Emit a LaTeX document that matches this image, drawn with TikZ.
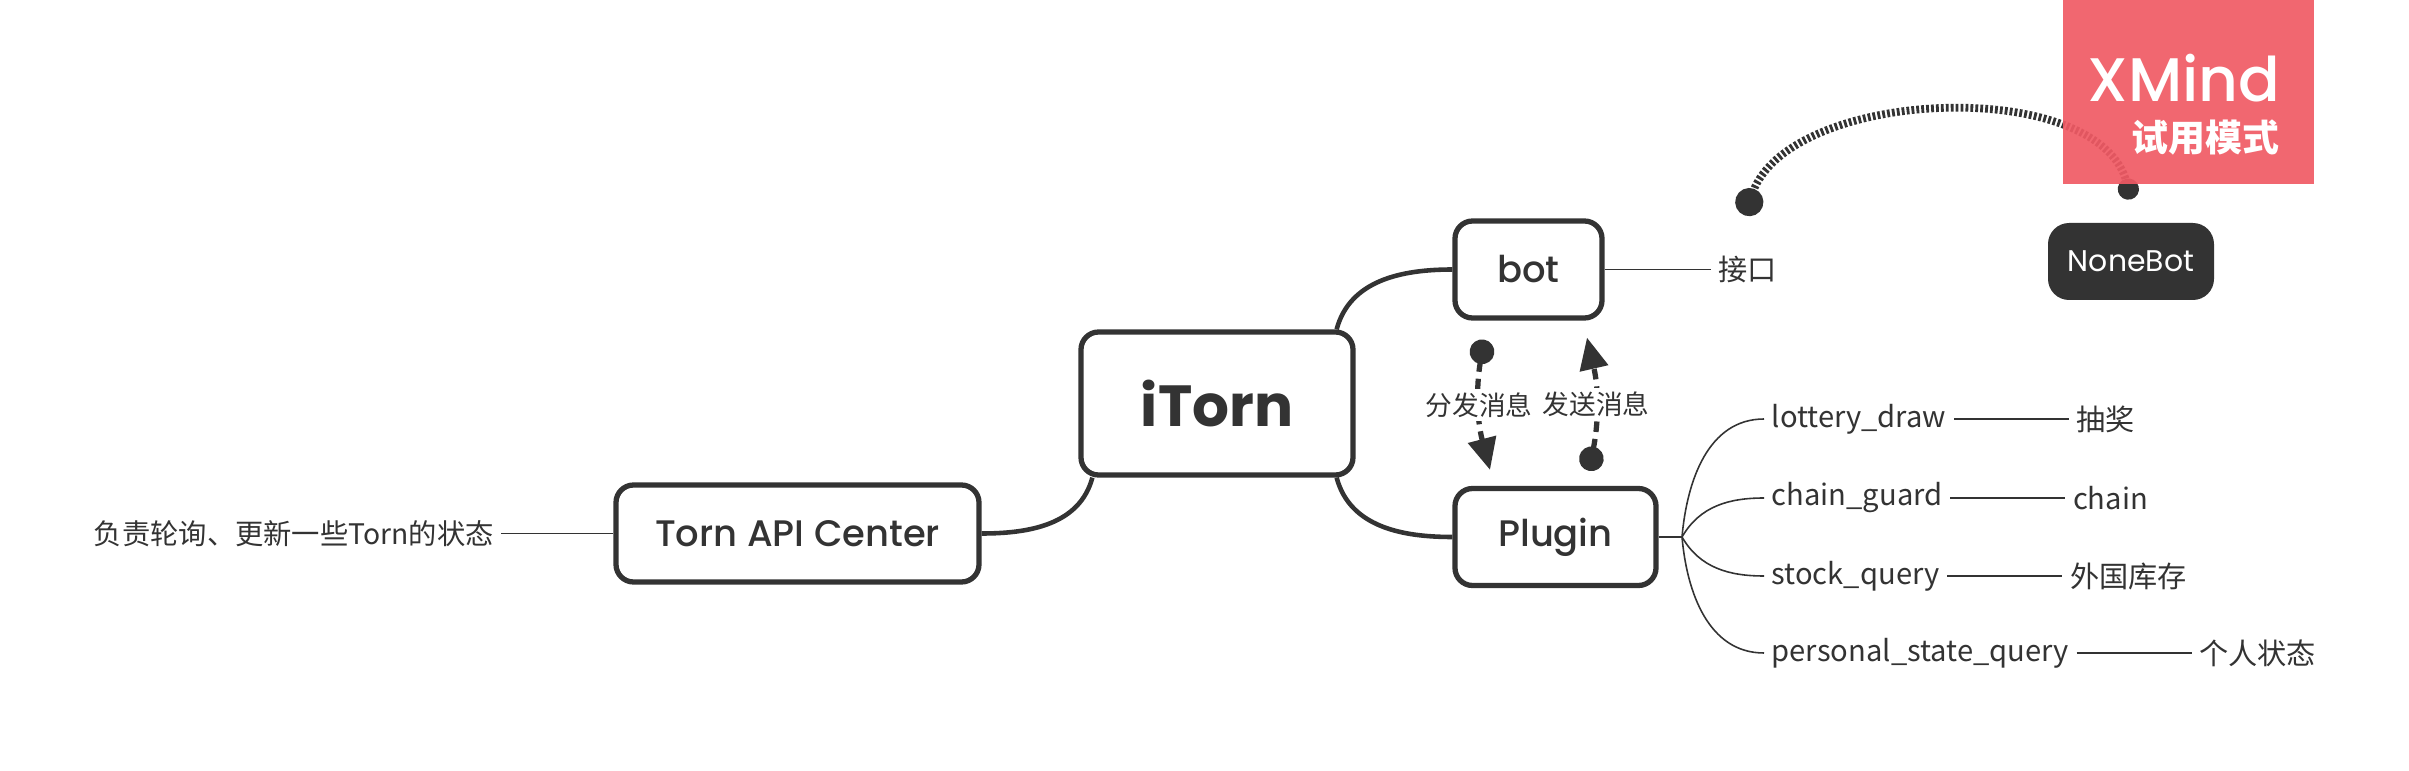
\documentclass[tikz,border=0pt]{standalone}
\usepackage{fontspec}
\setmainfont{Noto Sans CJK SC}
\newfontfamily\topicfont{Poppins}
\newfontfamily\subfont{Poppins Medium}
\usepackage{tikz}
\usetikzlibrary{positioning,arrows.meta}
\definecolor{inkgray}{HTML}{333333}
\definecolor{trialred}{HTML}{F05A64}
\tikzstyle{mainbox} = [draw=inkgray, fill=white, line width=1.5pt, rectangle, rounded corners=5pt, text=inkgray]
\tikzstyle{topicbox} = [mainbox, font=\topicfont\bfseries\fontsize{16.5}{20}\selectfont, minimum width=2.72cm, minimum height=1.43cm]
\tikzstyle{subbox} = [mainbox, font=\subfont\fontsize{10.5}{12}\selectfont, minimum height=0.97cm]
\tikzstyle{darkbox} = [fill=inkgray, text=white, rectangle, rounded corners=6pt, font=\topicfont\fontsize{8.5}{10}\selectfont, minimum width=1.66cm, minimum height=0.77cm]
\tikzstyle{leaf} = [text=inkgray, font=\fontsize{8.3}{10}\selectfont, inner sep=2pt]
\tikzstyle{branch} = [draw=inkgray, line width=1.3pt]
\tikzstyle{twig} = [draw=inkgray, line width=0.45pt]
\tikzstyle{relline} = [draw=inkgray, line width=1.5pt, dash pattern=on 3pt off 2pt, arrows={Circle[length=7pt]-Triangle[length=9pt,width=8pt]}]
\tikzstyle{rellabel} = [fill=white, text=inkgray, font=\fontsize{7.6}{9}\selectfont, inner sep=1pt]
\tikzstyle{linkline} = [draw=inkgray, line width=2.2pt, dash pattern=on 0.8pt off 0.6pt, arrows={Circle[length=8pt]-Circle[length=6pt]}]

\begin{document}
\begin{tikzpicture}
\useasboundingbox (0,0) rectangle (24.09,-7.71);

\node[topicbox] (itorn) at (12.17,-4.035) {iTorn};
\node[subbox, minimum width=1.47cm] (bot) at (15.285,-2.695) {bot};
\node[subbox, minimum width=2.01cm] (plugin) at (15.555,-5.37) {Plugin};
\node[subbox, minimum width=3.63cm] (tac) at (7.975,-5.335) {Torn API Center};
\node[darkbox] (nonebot) at (21.31,-2.615) {NoneBot};

\node[leaf, right=1.06cm of bot] (jiekou) {接口};
\node[leaf, font=\fontsize{8.05}{10}\selectfont, left=1.12cm of tac] (poll) {负责轮询、更新一些Torn的状态};

\coordinate (fork) at (16.82,-5.37);
\node[leaf, anchor=west] (lottery) at (17.64,-4.19) {lottery\_draw};
\node[leaf, anchor=west] (chainguard) at (17.64,-4.98) {chain\_guard};
\node[leaf, anchor=west] (stockquery) at (17.64,-5.76) {stock\_query};
\node[leaf, anchor=west] (personal) at (17.64,-6.53) {personal\_state\_query};
\node[leaf, right=1.15cm of lottery] (choujiang) {抽奖};
\node[leaf, right=1.15cm of chainguard] (chain) {chain};
\node[leaf, right=1.15cm of stockquery] (kucun) {外国库存};
\node[leaf, right=1.15cm of personal] (zhuangtai) {个人状态};

\draw[branch] ([xshift=-0.19cm]itorn.north east) to[out=75,in=180] (bot.west);
\draw[branch] ([xshift=-0.19cm]itorn.south east) to[out=-75,in=180] (plugin.west);
\draw[branch] ([xshift=0.14cm]itorn.south west) to[out=-105,in=0] (tac.east);

\draw[twig] (bot.east) -- (jiekou.west);
\draw[twig] (tac.west) -- (poll.east);
\draw[twig] (plugin.east) -- (fork);
\foreach \leafname/\ang in {lottery/85, chainguard/60, stockquery/-60, personal/-85}
  \draw[twig] (fork) to[out=\ang,in=180] (\leafname.west);
\foreach \from/\to in {lottery/choujiang, chainguard/chain, stockquery/kucun, personal/zhuangtai}
  \draw[twig] (\from.east) -- (\to.west);

\draw[relline] ([shift={(-0.445,-0.19)}]bot.south) to[bend right=12] node[rellabel] {分发消息} ([shift={(-0.655,0.16)}]plugin.north);
\draw[relline] ([shift={(0.335,0.15)}]plugin.north) to[bend right=12] node[rellabel] {发送消息} ([shift={(0.585,-0.17)}]bot.south);

\draw[linkline] ([shift={(-0.03,0.33)}]jiekou.north) .. controls +(0.46,1.28) and +(-0.32,1.24) .. ([yshift=0.23cm]nonebot.north);

\fill[trialred, opacity=0.92] (20.63,0) rectangle (23.14,-1.84);
\node[text=white, font=\subfont\fontsize{17.5}{20}\selectfont, anchor=base east, inner sep=0pt] (xmind) at (22.81,-1.02) {XMind};
\node[text=white, font=\bfseries\fontsize{10.5}{12}\selectfont, anchor=base east, inner sep=0pt] (shiyong) at (22.80,-1.52) {试用模式};
\end{tikzpicture}
\end{document}
